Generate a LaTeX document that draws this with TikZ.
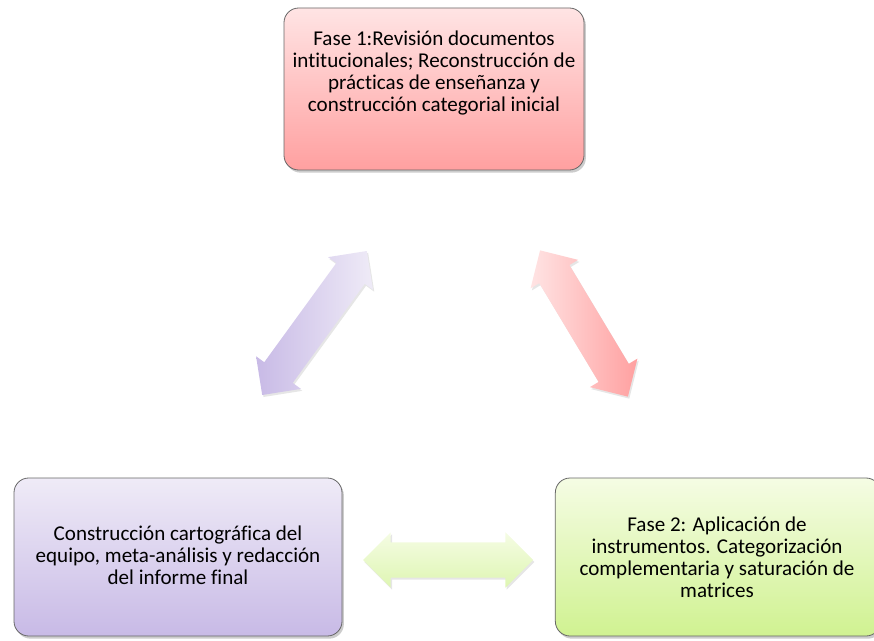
\documentclass[tikz,border=0pt]{standalone}
\usepackage{fontspec}
\setmainfont{Carlito}[RawFeature={-liga;-clig}]
\usetikzlibrary{shapes.arrows,shadows}

\definecolor{rojoA}{RGB}{255,228,228}
\definecolor{rojoB}{RGB}{255,160,160}
\definecolor{lilaA}{RGB}{239,235,247}
\definecolor{lilaB}{RGB}{200,186,230}
\definecolor{verdeA}{RGB}{245,252,228}
\definecolor{verdeB}{RGB}{208,242,145}

\tikzset{
  fase/.style={draw=black!60, line width=0.6pt, rounded corners=11pt,
    drop shadow={shadow xshift=1.4pt, shadow yshift=-2pt, opacity=0.4}},
  txt/.style={align=center, font=\fontsize{15.8}{16.6}\selectfont},
  flecha/.style={double arrow, double arrow head extend=7.6pt,
    inner sep=0pt, inner ysep=13pt, text height=0pt, text depth=0pt,
    drop shadow={shadow xshift=1pt, shadow yshift=-1.5pt, opacity=0.2}}
}

\begin{document}
\begin{tikzpicture}[x=0.75pt, y=-0.75pt]
  \useasboundingbox (0,0) rectangle (874,641);
  % Las tres fases.
  \node[fase, top color=rojoA, bottom color=rojoB,
    minimum width=225pt, minimum height=121.5pt] (f1) at (434,89) {};
  \node[fase, top color=lilaA, bottom color=lilaB,
    minimum width=246pt, minimum height=118.5pt] (f3) at (178,557) {};
  \node[fase, top color=verdeA, bottom color=verdeB,
    minimum width=244pt, minimum height=118.5pt] (f2) at (718,557) {};
  % Textos.
  \node[txt] (t1) at (434,73) {Fase 1:Revisión documentos\\intitucionales; Reconstrucción de\\prácticas de enseñanza y\\construcción categorial inicial};
  \node[txt] (t3) at (178,555) {Construcción cartográfica del\\equipo, meta-análisis y redacción\\del informe final};
  \node[txt] (t2) at (717,557) {Fase 2: Aplicación de\\instrumentos. Categorización\\complementaria y saturación de\\matrices};
  % Flechas dobles entre las fases.
  \node[flecha, rotate=54, left color=lilaB, right color=lilaA,
    minimum height=133.5pt] (a13) at (314.5,323) {};
  \node[flecha, rotate=-59, left color=rojoA, right color=rojoB,
    minimum height=128pt] (a12) at (584,323.5) {};
  \node[flecha, top color=verdeA, bottom color=verdeB!70,
    minimum height=127.5pt] (a23) at (448,560) {};
\end{tikzpicture}
\end{document}
